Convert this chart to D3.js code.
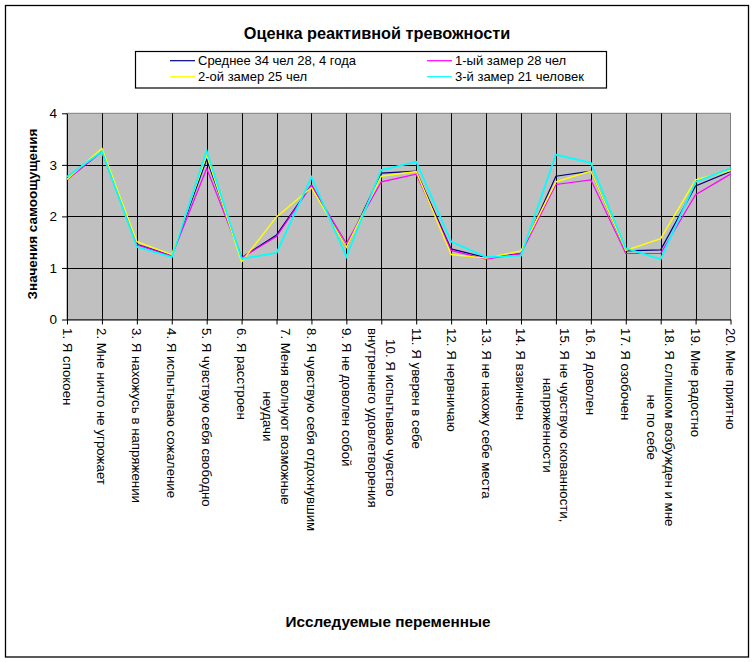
<!DOCTYPE html>
<html><head><meta charset="utf-8">
<script src="https://cdn.jsdelivr.net/npm/d3@7/dist/d3.min.js"></script>
<style>body{margin:0;background:#fff}svg{display:block}text{font-family:"Liberation Sans",Arial,sans-serif}</style>
</head><body><svg id="c" width="755" height="662"></svg>
<script>
const categories = [
 ["1. Я спокоен"],
 ["2. Мне ничто не угрожает"],
 ["3. Я нахожусь в напряжении"],
 ["4. Я испытываю сожаление"],
 ["5. Я чувствую себя свободно"],
 ["6. Я расстроен"],
 ["7. Меня волнуют возможные","неудачи"],
 ["8. Я чувствую себя отдохнувшим"],
 ["9. Я не доволен собой"],
 ["10. Я испытываю чувство","внутреннего удовлетворения"],
 ["11. Я уверен в себе"],
 ["12. Я нервничаю"],
 ["13. Я не нахожу себе места"],
 ["14. Я взвинчен"],
 ["15. Я не чувствую скованности,","напряженности"],
 ["16. Я доволен"],
 ["17. Я озобочен"],
 ["18. Я слишком возбужден и мне","не по себе"],
 ["19. Мне радостно"],
 ["20. Мне приятно"]
];
const seriesNames = ["Среднее 34 чел 28, 4 года","1-ый замер 28 чел","2-ой замер 25 чел","3-й замер 21 человек"];
const seriesColors = ["#000080","#FF00FF","#FFFF00","#00FFFF"];
const avg   = [2.72,3.26,1.46,1.24,3.11,1.20,1.64,2.61,1.40,2.84,2.88,1.37,1.20,1.28,2.78,2.88,1.33,1.35,2.59,2.87];
const m1    = [2.71,3.26,1.45,1.23,2.93,1.20,1.61,2.60,1.48,2.67,2.82,1.34,1.17,1.28,2.62,2.71,1.28,1.28,2.42,2.82];
const m2    = [2.72,3.32,1.51,1.26,3.19,1.12,1.99,2.56,1.40,2.78,2.87,1.26,1.19,1.33,2.67,2.88,1.34,1.57,2.71,2.89];
const m3    = [2.77,3.26,1.41,1.21,3.27,1.18,1.29,2.76,1.22,2.90,3.06,1.51,1.21,1.24,3.20,3.04,1.38,1.17,2.67,2.93];
const yTicks = [0,1,2,3,4];
const titleText = "Оценка реактивной тревожности";
const yTitle = "Значения самоощущения";
const xTitle = "Исследуемые переменные";

const svg = d3.select("#c");
const L=67, R=730.5, T=113.3, B=319.5;
svg.append("rect").attr("x",5.5).attr("y",5.5).attr("width",743).attr("height",651.5).attr("fill","#fff").attr("stroke","#000").attr("stroke-width",1.3);

const x = d3.scalePoint().domain(d3.range(categories.length)).range([L,R]);
const y = d3.scaleLinear().domain([0,4]).range([B,T]);

svg.append("rect").attr("x",L).attr("y",T).attr("width",R-L).attr("height",B-T).attr("fill","#C0C0C0").attr("stroke","#808080").attr("stroke-width",1);
const g = svg.append("g");
g.selectAll(".hg").data(yTicks.filter(v=>v>0&&v<4)).join("line")
 .attr("x1",L).attr("x2",R).attr("y1",d=>Math.round(y(d))+0.5).attr("y2",d=>Math.round(y(d))+0.5).attr("stroke","#000").attr("stroke-width",1);
g.selectAll(".vg").data(d3.range(1,categories.length-1)).join("line")
 .attr("x1",d=>Math.round(x(d))+0.5).attr("x2",d=>Math.round(x(d))+0.5).attr("y1",T).attr("y2",B).attr("stroke","#000").attr("stroke-width",1);

// axes
const yAx = svg.append("g").attr("transform",`translate(${L},0)`).call(d3.axisLeft(y).tickValues(yTicks).tickSize(5).tickSizeOuter(0).tickPadding(5).tickFormat(d3.format("d")));
yAx.select(".domain").attr("stroke","#000");
yAx.selectAll("text").attr("font-size",13.5).attr("fill","#000").attr("font-family","Liberation Sans, Arial, sans-serif");
const xAx = svg.append("g").attr("transform",`translate(0,${B})`).call(d3.axisBottom(x).tickSize(5).tickSizeOuter(0).tickFormat(""));
xAx.select(".domain").attr("stroke","#000");

// series lines
const line = d3.line().x((d,i)=>x(i)).y(d=>y(d));
const data = [avg,m1,m2,m3];
const widths=[1.2,1.2,1.4,1.8];
data.forEach((s,k)=>{
 svg.append("path").datum(s).attr("d",line).attr("fill","none").attr("stroke",seriesColors[k]).attr("stroke-width",widths[k]).attr("stroke-linejoin","miter");
});

// category labels (rotated 90deg cw)
const fs=13.3, lh=17.5;
categories.forEach((lines,i)=>{
 const gg = svg.append("g").attr("transform",`translate(${x(i)},${328}) rotate(90)`);
 const n=lines.length;
 const ts = lines.map((t,j)=>gg.append("text").text(t).attr("font-size",fs).attr("fill","#000").attr("text-anchor","middle").attr("dominant-baseline","central").attr("y",(j-(n-1)/2)*lh));
 const w = d3.max(ts.map(t=>t.node().getComputedTextLength()));
 ts.forEach(t=>t.attr("x",w/2));
});

// titles
svg.append("text").attr("x",377).attr("y",38.5).attr("text-anchor","middle").attr("font-size",16.3).attr("font-weight","bold").text(titleText);
svg.append("text").attr("transform","translate(37,214) rotate(-90)").attr("text-anchor","middle").attr("font-size",13.5).attr("font-weight","bold").text(yTitle);
svg.append("text").attr("x",388).attr("y",627).attr("text-anchor","middle").attr("font-size",15.3).attr("font-weight","bold").text(xTitle);

// legend
svg.append("rect").attr("x",135.5).attr("y",51.5).attr("width",471).attr("height",36.5).attr("fill","#fff").attr("stroke","#000").attr("stroke-width",1.2);
const legPos=[[170,60.7],[427,60.7],[170,76.7],[427,76.7]];
const order=[0,1,2,3];
order.forEach((k,i)=>{
 const [lx,ly]=legPos[i];
 svg.append("line").attr("x1",lx).attr("x2",lx+25).attr("y1",ly).attr("y2",ly).attr("stroke",seriesColors[k]).attr("stroke-width",1.2);
 svg.append("text").attr("x",lx+28).attr("y",ly).attr("dominant-baseline","central").attr("font-size",13).text(seriesNames[k]);
});
</script></body></html>
